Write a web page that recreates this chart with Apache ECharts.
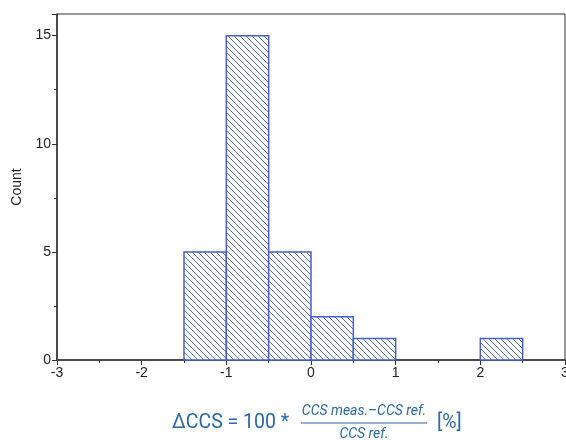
<!DOCTYPE html>
<html>
<head>
<meta charset="utf-8">
<script src="https://cdn.jsdelivr.net/npm/echarts@6/dist/echarts.min.js"></script>
<style>
  html, body { margin: 0; padding: 0; background: #fff; }
  #chart { width: 566px; height: 440px; }
</style>
</head>
<body>
<div id="chart"></div>
<script>
  // histogram bins (width 0.5) and counts
  var binStart = [-1.5, -1, -0.5, 0, 0.5, 1, 1.5, 2];
  var binEnd = [-1, -0.5, 0, 0.5, 1, 1.5, 2, 2.5];
  var counts = [5, 15, 5, 2, 1, 0, 0, 1];

  var blue = '#4461c8';

  // backslash hatch tile
  var tile = document.createElement('canvas');
  tile.width = 6;
  tile.height = 6;
  var tc = tile.getContext('2d');
  tc.fillStyle = '#fff';
  tc.fillRect(0, 0, 6, 6);
  tc.strokeStyle = '#5570cc';
  tc.lineWidth = 1;
  tc.beginPath();
  tc.moveTo(-1, -1); tc.lineTo(7, 7);
  tc.moveTo(-1, 5); tc.lineTo(1, 7);
  tc.moveTo(5, -1); tc.lineTo(7, 1);
  tc.stroke();

  var data = binStart.map(function (s, i) { return [s, binEnd[i], counts[i]]; });

  var chart = echarts.init(document.getElementById('chart'));
  var font = 'Liberation Sans';
  var ffont = 'Roboto';
  var txtBlue = '#2a68a8';

  chart.setOption({
    animation: false,
    textStyle: { fontFamily: font },
    grid: {
      left: 57, right: 1, top: 14, bottom: 80,
      outerBoundsMode: 'none', containLabel: false,
      show: true, borderColor: '#333', borderWidth: 1
    },
    xAxis: {
      type: 'value',
      min: -3, max: 3, interval: 1,
      splitLine: { show: false },
      axisLine: { onZero: false, lineStyle: { color: '#333', width: 1.5 } },
      axisTick: { length: 5, lineStyle: { color: '#333' } },
      minorTick: { show: true, splitNumber: 2, length: 3, lineStyle: { color: '#333' } },
      axisLabel: { color: '#222', fontSize: 14, fontFamily: font, margin: 6 }
    },
    yAxis: {
      type: 'value',
      min: 0, max: 16, interval: 5,
      name: 'Count',
      nameLocation: 'middle',
      nameGap: 27,
      nameTextStyle: { color: '#222', fontSize: 14, fontFamily: font },
      splitLine: { show: false },
      axisLine: { show: true, onZero: false, lineStyle: { color: '#333', width: 1.5 } },
      axisTick: { length: 5, lineStyle: { color: '#333' } },
      minorTick: { show: true, splitNumber: 2, length: 3, lineStyle: { color: '#333' } },
      axisLabel: {
        color: '#222', fontSize: 14, fontFamily: font, margin: 6,
        formatter: function (v) { return v % 5 === 0 ? v : ''; }
      }
    },
    series: [{
      type: 'custom',
      encode: { x: [0, 1], y: 2 },
      data: data,
      renderItem: function (params, api) {
        var c = api.value(2);
        if (!c) return null;
        var p0 = api.coord([api.value(0), c]);
        var p1 = api.coord([api.value(1), 0]);
        return {
          type: 'rect',
          shape: { x: p0[0], y: p0[1], width: p1[0] - p0[0], height: p1[1] - p0[1] },
          style: { fill: { image: tile, repeat: 'repeat' }, stroke: blue, lineWidth: 1.5 }
        };
      }
    }],
    graphic: [
      { type: 'text', x: 172, y: 423, style: { text: 'ΔCCS = 100 *', fill: txtBlue, fontFamily: ffont, fontSize: 19.5, verticalAlign: 'middle' } },
      { type: 'text', x: 364, y: 411, style: { text: 'CCS meas.–CCS ref.', fill: txtBlue, fontFamily: ffont, fontSize: 14, fontStyle: 'italic', align: 'center', verticalAlign: 'middle' } },
      { type: 'line', shape: { x1: 301, y1: 423, x2: 427, y2: 423 }, style: { stroke: txtBlue, lineWidth: 1 } },
      { type: 'text', x: 364, y: 434, style: { text: 'CCS ref.', fill: txtBlue, fontFamily: ffont, fontSize: 14, fontStyle: 'italic', align: 'center', verticalAlign: 'middle' } },
      { type: 'text', x: 437, y: 423, style: { text: '[%]', fill: txtBlue, fontFamily: ffont, fontSize: 19.5, verticalAlign: 'middle' } }
    ]
  });
</script>
</body>
</html>
